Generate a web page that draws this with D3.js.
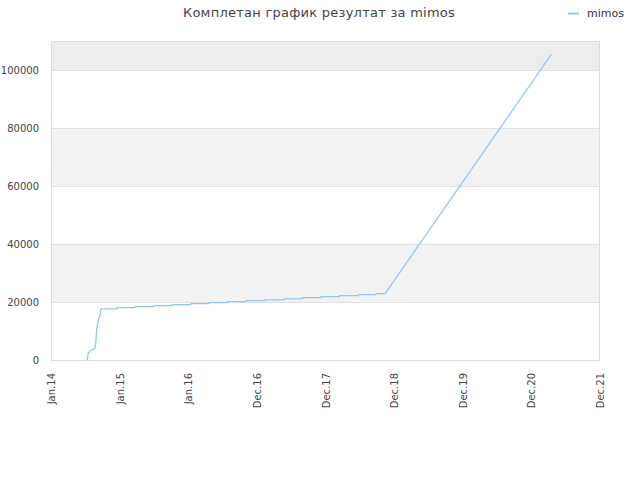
<!DOCTYPE html>
<html><head><meta charset="utf-8">
<script src="https://cdn.jsdelivr.net/npm/d3@7"></script>
<style>
body{margin:0;background:#fff;}
svg{display:block;font-family:"DejaVu Sans",sans-serif;}
</style></head>
<body><svg id="c" width="640" height="480"></svg>
<script>
const title = "Комплетан график резултат за mimos";
const seriesName = "mimos";
const dates = ["2014-07-13","2014-07-18","2014-07-27","2014-08-23","2014-08-27","2014-09-01","2014-09-10","2014-09-19","2014-09-22","2014-09-28",
  "2014-12-15","2014-12-16","2015-03-23","2015-03-24","2015-07-02","2015-07-03","2015-10-07","2015-10-08","2016-01-14","2016-01-15",
  "2016-04-19","2016-04-20","2016-07-28","2016-07-29","2016-11-02","2016-11-03","2017-02-11","2017-02-12","2017-05-23","2017-05-24",
  "2017-08-29","2017-08-30","2017-12-06","2017-12-07","2018-03-14","2018-03-15","2018-06-22","2018-06-23","2018-09-25","2018-09-26",
  "2018-11-13","2021-04-15"];
const values = [0,2300,3100,4040,5770,10360,13800,15550,17270,17600,
  17600,18060,18060,18410,18410,18750,18750,19100,19100,19440,
  19440,19790,19790,20140,20140,20480,20480,20720,20720,21070,
  21070,21520,21520,21860,21860,22210,22210,22550,22550,22900,
  22900,105350];
const yTicks = [0,20000,40000,60000,80000,100000];
const xTickLabels = ["Jan.14","Jan.15","Jan.16","Dec.16","Dec.17","Dec.18","Dec.19","Dec.20","Dec.21"];
const xStart = "2014-01-01";
const yMax = 110000;

const svg = d3.select("#c");
const L = 51, R = 600, T = 41, B = 360;
const parse = d3.utcParse("%Y-%m-%d");
const t0 = parse(xStart);
const xTickDates = xTickLabels.map((_, i) => d3.utcDay.offset(t0, 365 * i));
const x = d3.scaleUtc().domain([t0, xTickDates[xTickDates.length - 1]]).range([L, R]);
const y = d3.scaleLinear().domain([0, yMax]).range([B, T]);

// bands
const bandEdges = [...yTicks, yMax];
for (let i = 0; i < bandEdges.length - 1; i++) {
  if (i % 2 === 1) {
    svg.append("rect").attr("x", L).attr("width", R - L)
      .attr("y", y(bandEdges[i + 1])).attr("height", y(bandEdges[i]) - y(bandEdges[i + 1]))
      .attr("fill", i === bandEdges.length - 2 ? "#ededed" : "#f2f2f2");
  }
}
// grid
svg.append("g").selectAll("line").data(yTicks.slice(1)).join("line")
  .attr("x1", L).attr("x2", R).attr("y1", d => y(d) + 0.5).attr("y2", d => y(d) + 0.5)
  .attr("stroke", "#e0e0e0");
svg.append("rect").attr("x", L + 0.5).attr("y", T + 0.5).attr("width", R - L - 1).attr("height", B - T)
  .attr("fill", "none").attr("stroke", "#dcdcdc");

// y axis
const yAxis = d3.axisLeft(y).tickValues(yTicks).tickSize(0).tickPadding(12).tickFormat(d3.format("d"));
const gy = svg.append("g").attr("transform", `translate(${L},0)`).call(yAxis);
gy.select(".domain").remove();
gy.selectAll("text").attr("font-size", 10).attr("fill", "#444").attr("font-family", "DejaVu Sans, sans-serif");

// x axis
const xAxis = d3.axisBottom(x).tickValues(xTickDates).tickSize(0).tickFormat((d, i) => xTickLabels[i]);
const gx = svg.append("g").attr("transform", `translate(0,${B})`).call(xAxis);
gx.select(".domain").remove();
gx.selectAll("text").attr("font-size", 10).attr("fill", "#444").attr("font-family", "DejaVu Sans, sans-serif")
  .attr("transform", "rotate(-90)").attr("text-anchor", "end")
  .attr("x", -13).attr("y", 0).attr("dy", "0.35em");

// line
const data = dates.map((d, i) => ({date: parse(d), value: values[i]}));
svg.append("path").datum(data)
  .attr("fill", "none").attr("stroke", "#92c5f6").attr("stroke-width", 1.3)
  .attr("d", d3.line().x(d => x(d.date)).y(d => y(d.value)));

// title
svg.append("text").attr("x", 319).attr("y", 17).attr("text-anchor", "middle")
  .attr("font-size", 13).attr("fill", "#444").attr("letter-spacing", 0.25).text(title);

// legend
svg.append("line").attr("x1", 568).attr("x2", 579).attr("y1", 13.5).attr("y2", 13.5)
  .attr("stroke", "#92c5f6").attr("stroke-width", 2);
svg.append("text").attr("x", 587).attr("y", 17).attr("font-size", 11).attr("fill", "#333").text(seriesName);
</script></body></html>
